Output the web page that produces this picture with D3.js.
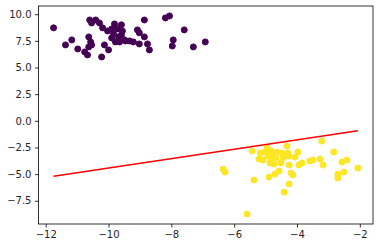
<!DOCTYPE html>
<html>
<head>
<meta charset="utf-8">
<script src="https://cdn.jsdelivr.net/npm/d3@7"></script>
<style>
  body { margin: 0; background: #fff; }
  svg { display: block; }
  text { font-family: "DejaVu Sans", sans-serif; font-size: 10px; fill: #262626; }
</style>
</head>
<body>
<svg width="380" height="248"></svg>
<script>
// cluster 0 (purple)
const purpleX = [-11.75, -10.60, -10.54, -10.41, -10.29, -10.19, -9.90, -9.81, -9.71, -9.59, -9.56, -9.84,
  -9.68, -9.59, -9.90, -9.78, -9.46, -9.33, -9.21, -8.86, -8.19, -8.06, -7.59, -9.08, -9.02, -8.86, -9.02,
  -8.76, -8.70, -7.94, -7.97, -7.30, -6.92, -11.37, -11.17, -10.98, -10.76, -10.67, -10.63, -10.57, -10.54,
  -10.63, -10.22, -10.13, -10.00, -9.65, -10.03, -9.49];
const purpleY = [8.72, 9.46, 9.18, 9.46, 9.18, 8.72, 8.62, 9.09, 8.62, 9.00, 8.43, 8.15,
  7.87, 8.06, 7.77, 7.40, 7.49, 7.49, 7.40, 9.46, 9.65, 9.84, 8.53, 8.53, 8.25, 7.87, 7.21,
  7.21, 6.65, 7.59, 7.02, 6.93, 7.40, 7.12, 7.59, 6.74, 6.46, 6.18, 7.87, 7.40, 7.12,
  6.93, 5.99, 7.12, 6.65, 7.40, 8.43, 7.59];

// cluster 1 (yellow)
const yellowX = [-6.35, -6.29, -5.59, -5.43, -5.37, -5.21, -5.17, -5.08, -4.95, -4.89, -4.83, -4.79,
  -4.83, -4.86, -4.73, -4.70, -4.63, -4.57, -4.51, -4.48, -4.41, -4.32, -4.29, -4.25, -4.25, -4.25,
  -4.19, -4.13, -4.06, -3.97, -3.94, -3.84, -3.59, -3.49, -3.27, -3.21, -3.17, -2.83, -2.70, -2.70,
  -2.57, -2.51, -2.41, -2.06, -5.02, -4.67, -4.92, -4.44];
const yellowY = [-4.53, -4.81, -8.75, -2.83, -5.56, -3.59, -3.02, -3.68, -2.55, -5.28, -2.83, -3.12,
  -3.49, -3.96, -4.06, -5.00, -2.93, -4.71, -3.96, -3.02, -6.69, -2.36, -3.02, -3.31, -4.15, -5.93,
  -4.90, -5.09, -3.40, -2.93, -4.15, -3.96, -3.77, -3.68, -3.59, -1.90, -4.15, -2.93, -5.00, -5.37,
  -3.87, -4.81, -3.68, -4.43, -2.93, -3.49, -3.31, -3.49];

// fitted line
const lineX = [-11.75, -2.06];
const lineY = [-5.21, -0.93];

const xTicks = [-12, -10, -8, -6, -4, -2];
const yTicks = [-7.5, -5.0, -2.5, 0.0, 2.5, 5.0, 7.5, 10.0];

const svg = d3.select("svg");
const margin = { left: 38.5, right: 7, top: 6, bottom: 24 };
const width = +svg.attr("width");
const height = +svg.attr("height");

const x = d3.scaleLinear().domain([-12.23, -1.58]).range([margin.left, width - margin.right]);
const y = d3.scaleLinear().domain([-9.68, 10.77]).range([height - margin.bottom, margin.top]);

const minus = (s) => s.replace("-", "\u2212");

// points
const purple = purpleX.map((d, i) => [d, purpleY[i]]);
const yellow = yellowX.map((d, i) => [d, yellowY[i]]);

svg.append("g")
    .selectAll("circle")
    .data(purple)
    .enter()
    .append("circle")
    .attr("cx", (d) => x(d[0]))
    .attr("cy", (d) => y(d[1]))
    .attr("r", 3)
    .attr("fill", "#440154")
    .attr("stroke", "#440154")
    .attr("stroke-width", 1);

svg.append("g")
    .selectAll("circle")
    .data(yellow)
    .enter()
    .append("circle")
    .attr("cx", (d) => x(d[0]))
    .attr("cy", (d) => y(d[1]))
    .attr("r", 3)
    .attr("fill", "#fde725")
    .attr("stroke", "#fde725")
    .attr("stroke-width", 1);

svg.append("path")
    .datum(lineX.map((d, i) => [d, lineY[i]]))
    .attr("fill", "none")
    .attr("stroke", "red")
    .attr("stroke-width", 1.5)
    .attr("d", d3.line().x((d) => x(d[0])).y((d) => y(d[1])));

// axes
const xAxis = svg.append("g")
    .attr("transform", `translate(0,${height - margin.bottom})`)
    .call(d3.axisBottom(x).tickValues(xTicks).tickSize(3.5).tickPadding(3.5)
        .tickFormat((d) => minus(d3.format("d")(d))));
const yAxis = svg.append("g")
    .attr("transform", `translate(${margin.left},0)`)
    .call(d3.axisLeft(y).tickValues(yTicks).tickSize(3.5).tickPadding(3.5)
        .tickFormat((d) => minus(d3.format(".1f")(d))));

[xAxis, yAxis].forEach((g) => {
    g.select(".domain").remove();
    g.selectAll("line").attr("stroke", "#000").attr("stroke-width", 0.8);
    g.selectAll("text").attr("font-family", "DejaVu Sans").attr("font-size", 10).attr("fill", "#262626");
});

// frame
svg.append("rect")
    .attr("x", margin.left)
    .attr("y", margin.top)
    .attr("width", width - margin.left - margin.right)
    .attr("height", height - margin.top - margin.bottom)
    .attr("fill", "none")
    .attr("stroke", "#000")
    .attr("stroke-width", 0.8);
</script>
</body>
</html>
